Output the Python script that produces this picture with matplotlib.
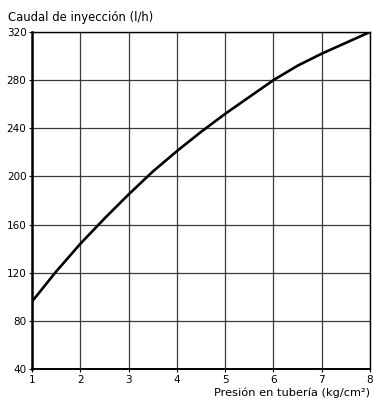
import matplotlib
matplotlib.use("Agg")
import matplotlib.pyplot as plt

presion = [1, 1.5, 2, 2.5, 3, 3.5, 4, 4.5, 5, 5.5, 6, 6.5, 7, 7.5, 8]
caudal = [96, 121, 144, 165, 185, 204, 221, 237, 252, 266, 280, 292, 302, 311, 320]
xticks = [1, 2, 3, 4, 5, 6, 7, 8]
yticks = [40, 80, 120, 160, 200, 240, 280, 320]

fig = plt.figure(figsize=(3.73, 4.01), dpi=100)
ax = fig.add_axes([32/373, 32/401, 338/373, 337/401])
ax.plot(presion, caudal, color="black", lw=1.9, solid_capstyle="round",
        solid_joinstyle="round", zorder=3)
ax.set_xlim(1, 8)
ax.set_ylim(40, 320)
ax.set_xticks(xticks)
ax.set_yticks(yticks)
ax.grid(True, color="#3a3a3a", lw=0.9)
for s in ax.spines.values():
    s.set_color("black")
    s.set_linewidth(1.0)
ax.spines["left"].set_linewidth(1.8)
ax.spines["bottom"].set_linewidth(1.4)
ax.tick_params(axis="both", labelsize=7.5, length=2.5, width=0.8, pad=1.5, colors="black")
ax.tick_params(axis="x", pad=2)
fig.text(8/373, 1 - 18/401, "Caudal de inyección (l/h)", fontsize=8.4, ha="left", va="center")
fig.text(370/373, 1 - 393/401, "Presión en tubería (kg/cm²)", fontsize=8.2, ha="right", va="center")
fig.savefig("out.png", dpi=100)
